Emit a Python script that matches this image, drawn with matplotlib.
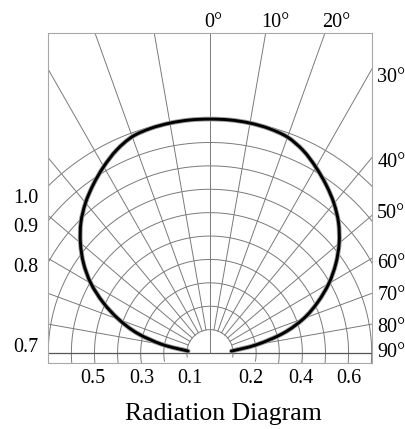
import numpy as np
import matplotlib
matplotlib.use("Agg")
import matplotlib.pyplot as plt
from matplotlib.path import Path
from matplotlib.patches import PathPatch

# ---------------- data ----------------
# radiation pattern: angle from the axis (deg) and relative intensity
pattern_angles = [-85, -80, -75, -70, -65, -60, -55, -50, -45, -40, -35, -30, -25, -20, -15, -10, -5,
                  0, 5, 10, 15, 20, 25, 30, 35, 40, 45, 50, 55, 60, 65, 70, 75, 80, 85]
pattern_values = [0.095, 0.21, 0.325, 0.42, 0.51, 0.595, 0.668, 0.732, 0.79, 0.838, 0.88, 0.92, 0.957, 0.984, 0.994, 0.998, 1.0,
                  1.0, 1.0, 0.998, 0.993, 0.982, 0.955, 0.917, 0.877, 0.835, 0.787, 0.73, 0.665, 0.594, 0.515, 0.432, 0.33, 0.205, 0.093]

ring_values = [0.1, 0.2, 0.3, 0.4, 0.5, 0.6, 0.7, 0.8, 0.9, 1.0]
spoke_angles = [-80, -70, -60, -50, -40, -30, -20, -10, 10, 20, 30, 40, 50, 60, 70, 80]

top_labels = ["0°", "10°", "20°"]
right_labels = ["30°", "40°", "50°", "60°", "70°", "80°", "90°"]
left_labels = ["1.0", "0.9", "0.8", "0.7"]
bottom_labels = ["0.5", "0.3", "0.1", "0.2", "0.4", "0.6"]

# ---------------- label positions (data coords) ----------------
top_label_x = [-0.026, 0.224, 0.484]
top_label_y = 1.394
right_label_x = 0.724
right_label_y = [1.159, 0.796, 0.576, 0.362, 0.2265, 0.091, -0.0158]
left_label_x = -0.742
left_label_y = [0.640, 0.518, 0.347, 0.0056]
bottom_label_x = [-0.5065, -0.2957, -0.0866, 0.1775, 0.3931, 0.6026]
bottom_label_y = -0.1295

FONT = ["Liberation Serif", "DejaVu Serif"]
GRID = "#7a7a7a"

fig = plt.figure(figsize=(4.06, 4.29), dpi=100)
fig.patch.set_facecolor("white")
ax = fig.add_axes([48.5 / 406, (429 - 363) / 429, 323.5 / 406, 330 / 429])
ax.set_xlim(-0.699, 0.7014)
ax.set_ylim(-0.0427, 1.368)
ax.set_xticks([])
ax.set_yticks([])
for s in ax.spines.values():
    s.set_color("#a8a8a8")
    s.set_linewidth(0.8)


def pol(r, deg):
    a = np.deg2rad(np.asarray(deg, dtype=float))
    r = np.asarray(r, dtype=float)
    return r * np.sin(a), r * np.cos(a)


# rings (continue slightly below the 90° line)
t = np.linspace(-100, 100, 600)
for rv in ring_values:
    x, y = pol(rv, t)
    ax.plot(x, y, color=GRID, lw=0.7, zorder=1)

# spokes
for a in spoke_angles:
    x, y = pol([ring_values[0], 3.0], [a, a])
    ax.plot(x, y, color=GRID, lw=0.7, zorder=1)
x, y = pol([0.0, 3.0], [0, 0])
ax.plot(x, y, color=GRID, lw=0.7, zorder=1)

# 90° base line
ax.axhline(0, color="#555555", lw=0.9, zorder=2)

# pattern curve drawn as a smooth Bezier path through the measured points
px, py = pol(pattern_values, pattern_angles)
P = np.column_stack([px, py])
verts = [P[0]]
codes = [Path.MOVETO]
n = len(P)
for i in range(n - 1):
    p0 = P[max(i - 1, 0)]
    p1 = P[i]
    p2 = P[i + 1]
    p3 = P[min(i + 2, n - 1)]
    c1 = p1 + (p2 - p0) / 6.0
    c2 = p2 - (p3 - p1) / 6.0
    verts += [c1, c2, p2]
    codes += [Path.CURVE4] * 3
path = Path(verts, codes)
ax.add_patch(PathPatch(path, fill=False, edgecolor="#9a9a9a", lw=3.4, capstyle="round", zorder=3))
ax.add_patch(PathPatch(path, fill=False, edgecolor="black", lw=2.1, capstyle="round", zorder=4))

fs = 14.5
for lab, xx in zip(top_labels, top_label_x):
    ax.text(xx, top_label_y, lab, ha="left", va="baseline", fontsize=fs, family=FONT, clip_on=False)
for lab, yy in zip(right_labels, right_label_y):
    ax.text(right_label_x, yy, lab, ha="left", va="baseline", fontsize=fs, family=FONT, clip_on=False)
for lab, yy in zip(left_labels, left_label_y):
    ax.text(left_label_x, yy, lab, ha="right", va="baseline", fontsize=fs, family=FONT, clip_on=False)
for lab, xx in zip(bottom_labels, bottom_label_x):
    ax.text(xx, bottom_label_y, lab, ha="center", va="baseline", fontsize=fs, family=FONT, clip_on=False)

fig.text(223.5 / 406, (429 - 420) / 429, "Radiation Diagram", ha="center", va="baseline",
         fontsize=18.5, family=FONT)

fig.savefig("out.png", dpi=100, facecolor="white")
